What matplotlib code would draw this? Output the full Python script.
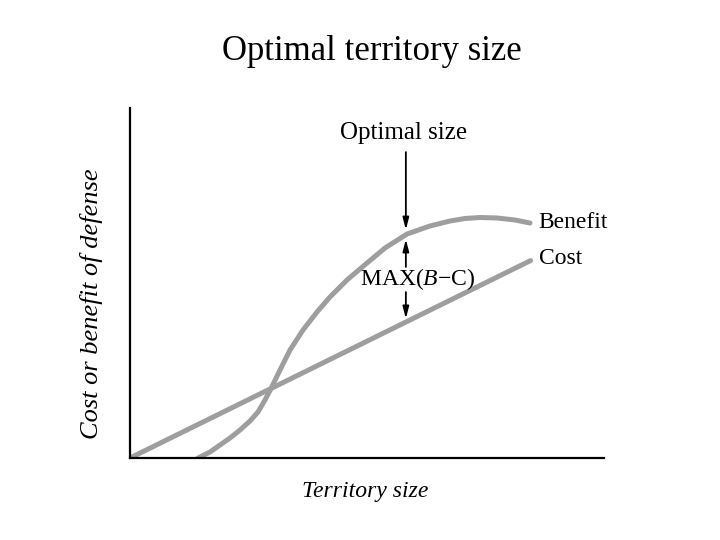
import matplotlib
matplotlib.use("Agg")
import matplotlib.pyplot as plt

plt.rcParams["mathtext.fontset"] = "custom"
plt.rcParams["mathtext.rm"] = "Liberation Serif"
plt.rcParams["mathtext.it"] = "Liberation Serif:italic"

# Data (axis units 0..10)
benefit_x = [1.435, 1.688, 1.899, 2.110, 2.321, 2.532, 2.700, 2.848, 2.975, 3.165, 3.376, 3.650,
             3.945, 4.219, 4.578, 5.000, 5.380, 5.844, 6.329, 6.751, 7.068, 7.384, 7.743, 8.122, 8.439]
benefit_y = [0.000, 0.171, 0.371, 0.571, 0.800, 1.057, 1.314, 1.657, 1.986, 2.514, 3.086, 3.657,
             4.171, 4.600, 5.086, 5.571, 6.000, 6.400, 6.629, 6.771, 6.843, 6.871, 6.857, 6.800, 6.714]
cost_x = [0.0, 8.45]
cost_y = [0.0, 5.64]
optimal_x = 5.82

fig = plt.figure(figsize=(7.2, 5.4), dpi=100)
ax = fig.add_axes([130/720, 1-458/540, 474/720, 350/540])
ax.set_xlim(0, 10)
ax.set_ylim(0, 10)
for s in ["top", "right"]:
    ax.spines[s].set_visible(False)
for s in ["left", "bottom"]:
    ax.spines[s].set_linewidth(1.6)
    ax.spines[s].set_color("black")
ax.set_xticks([])
ax.set_yticks([])

curve_color = "#9e9e9e"
ax.plot(benefit_x, benefit_y, color=curve_color, lw=3.6, solid_capstyle="round", solid_joinstyle="round")
ax.plot(cost_x, cost_y, color=curve_color, lw=3.6, solid_capstyle="round")

serif = "Liberation Serif"
ax.text(benefit_x[-1] + 0.18, benefit_y[-1] + 0.02, "Benefit", fontsize=17, family=serif, va="center", ha="left")
ax.text(cost_x[-1] + 0.18, cost_y[-1] + 0.05, "Cost", fontsize=17, family=serif, va="center", ha="left")

ax.text(optimal_x - 0.05, 9.3, "Optimal size", fontsize=18, family=serif, ha="center", va="center")
ax.text(optimal_x + 0.25, 5.1, "MAX($\\mathit{B}$\u2212C)", fontsize=17, family=serif, ha="center", va="center")

akw = dict(arrowstyle="-|>,head_length=0.7,head_width=0.18", color="black", lw=1.3, shrinkA=0, shrinkB=0)
ax.annotate("", xy=(optimal_x, 6.52), xytext=(optimal_x, 8.74), arrowprops=akw)
ax.annotate("", xy=(optimal_x, 6.25), xytext=(optimal_x, 5.46), arrowprops=akw)
ax.annotate("", xy=(optimal_x, 3.98), xytext=(optimal_x, 4.74), arrowprops=akw)

ax.set_xlabel("Territory size", fontsize=17, family=serif, style="italic")
ax.xaxis.set_label_coords(0.497, -0.065)
ax.set_ylabel("Cost or benefit of defense", fontsize=19, family=serif, style="italic")
ax.yaxis.set_label_coords(-0.058, 0.44)

fig.text(372/720, 1-52/540, "Optimal territory size", fontsize=25, family=serif, ha="center", va="center")

fig.savefig("out.png", dpi=100)
